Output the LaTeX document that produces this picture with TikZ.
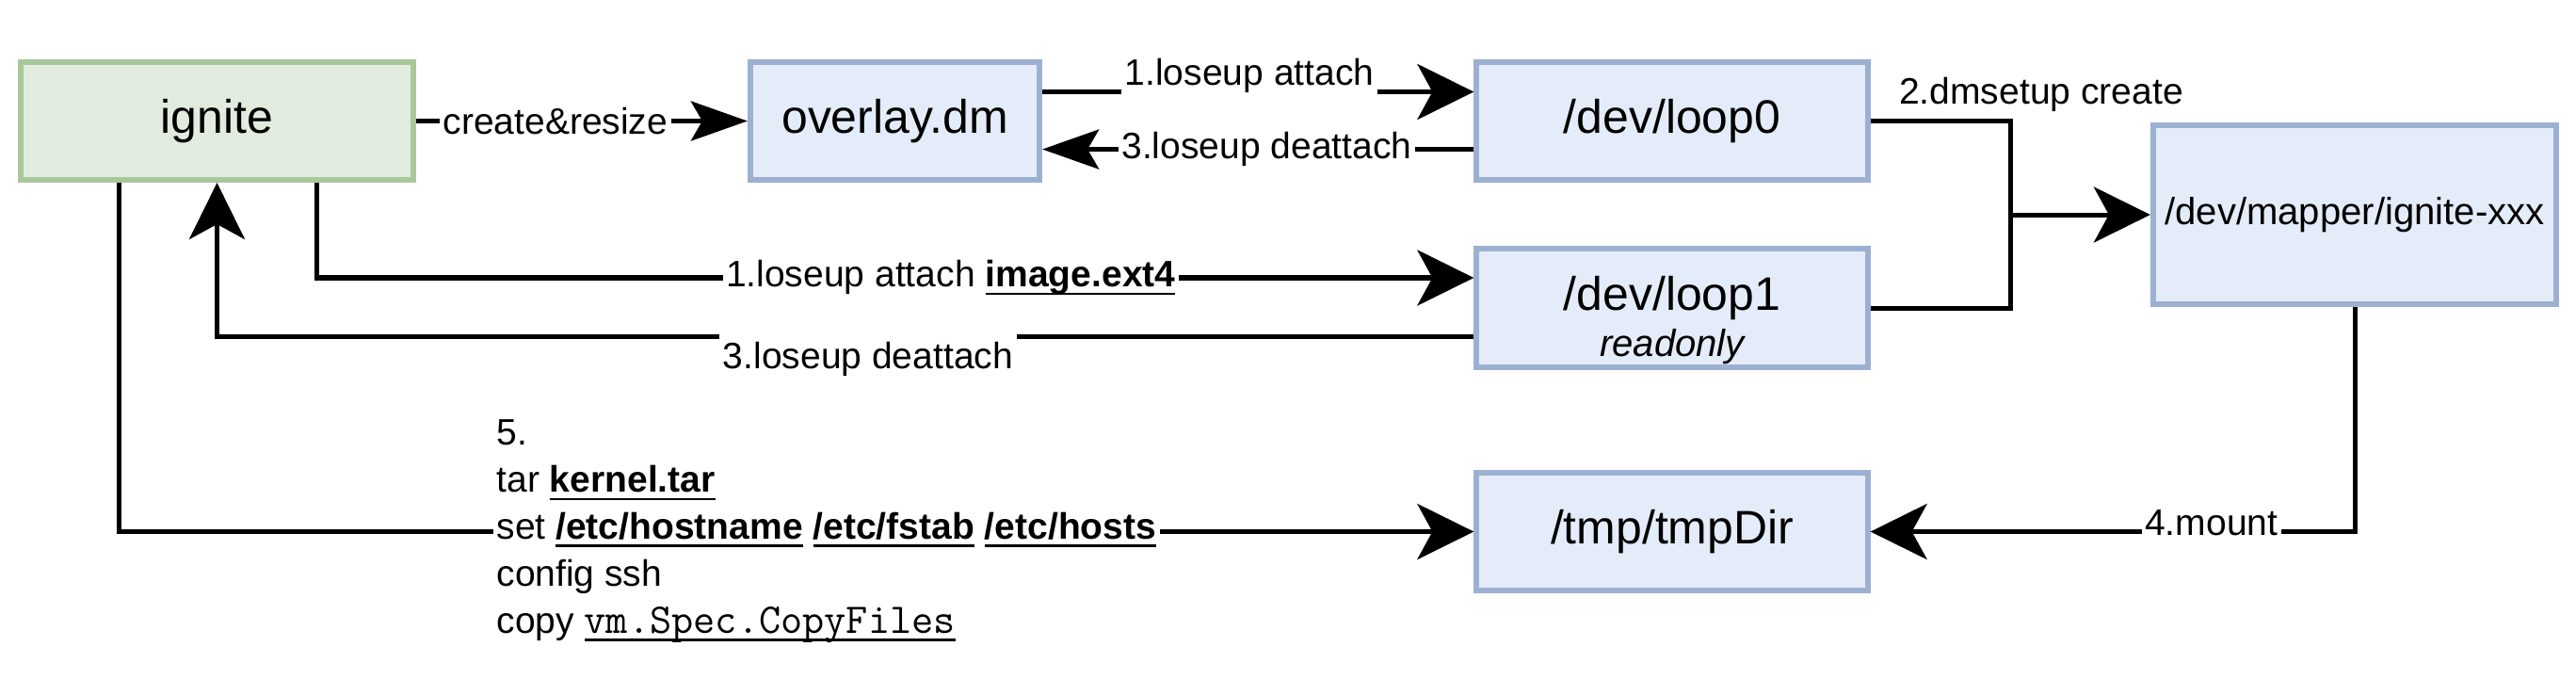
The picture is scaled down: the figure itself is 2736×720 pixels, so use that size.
\documentclass[tikz,border=0pt]{standalone}
\usepackage{fontspec}
\setmainfont{Liberation Sans}
\usepackage{tikz}
\usetikzlibrary{arrows.meta}
\usetikzlibrary{calc}
\definecolor{boxgreen}{HTML}{E1ECDF}
\definecolor{linegreen}{HTML}{AAC79B}
\definecolor{boxblue}{HTML}{E5ECF9}
\definecolor{lineblue}{HTML}{9CB0D2}
\newcommand{\thickul}[1]{\setbox0\hbox{#1}\rlap{\rule[-2.4pt]{\wd0}{0.8pt}}\box0\relax}

\begin{document}
\begin{tikzpicture}[x=0.01cm, y=-0.01cm,
		bigtip/.tip={Stealth[length=6mm, width=5.9mm, inset=1.6mm]},
		smalltip/.tip={Stealth[length=6mm, width=4.2mm, inset=1.2mm]},
		wire/.style={line width=0.05cm},
		flow/.style={wire, -bigtip},
		thinflow/.style={wire, -smalltip},
		box/.style={draw=lineblue, fill=boxblue, line width=0.06cm, minimum width=4.15cm, minimum height=1.25cm, inner sep=0pt, font=\fontsize{14.2}{14}\selectfont},
		lbl/.style={fill=white, inner sep=1pt, font=\fontsize{11.1}{14.2}\selectfont}]
		\useasboundingbox (0,0) rectangle (2736,720);
		\node[box, draw=linegreen, fill=boxgreen, minimum width=4.17cm] (ignite) at (230.5,128.5) {ignite};
		\node[box, minimum width=3.07cm] (overlay) at (950.5,128.5) {overlay.dm};
		\node[box] (loop0) at (1776,128.5) {/dev/loop0};
		\node[box, align=center] (loop1) at (1776,327) {\rule{0pt}{0.62cm}/dev/loop1\\{\fontsize{11.4}{14}\selectfont\itshape readonly}};
		\node[box, minimum width=4.28cm, minimum height=1.9cm, font=\fontsize{11.4}{14}\selectfont] (mapper) at (2501,228) {/dev/mapper/ignite-xxx};
		\node[box] (tmpdir) at (1776,564.5) {/tmp/tmpDir};
		\coordinate (join) at (2135,228);

		\draw[thinflow] (ignite) -- node[lbl, pos=0.42] (lcreate) {create\&resize} (overlay);
		\draw[flow] ([yshift=0.31cm]overlay.east) -- node[lbl, pos=0.48, yshift=0.17cm] (lattach0) {1.loseup attach} ([yshift=0.31cm]loop0.west);
		\draw[thinflow] ([yshift=-0.3cm]loop0.west) -- node[lbl, pos=0.48] (ldetach0) {3.loseup deattach} ([yshift=-0.3cm]overlay.east);
		\draw[flow] ([xshift=1.055cm]ignite.south) |- node[lbl, pos=0.774] (lattach1) {1.loseup attach \thickul{\textbf{image.ext4}}} ([yshift=0.32cm]loop1.west);
		\draw[flow] ([yshift=-0.3cm]loop1.west) -| node[lbl, pos=0.241, yshift=-0.24cm, inner ysep=4pt] (ldetach1) {3.loseup deattach} (ignite.south);
		\draw[wire] (loop0.east) -| node[lbl, fill=none, pos=0, anchor=south west, xshift=0.21cm, inner sep=2pt] (ldm) {2.dmsetup create} (join) |- (loop1.east);
		\draw[flow] (join) -- (mapper.west);
		\draw[flow] (mapper.south) |- node[lbl, pos=0.648, yshift=0.09cm] (lmount) {4.mount} (tmpdir.east);
		\draw[flow] ([xshift=-1.035cm]ignite.south) |- node[lbl, pos=0.761, align=left] (lsetup) {5.\\tar \thickul{\textbf{kernel.tar}}\\set \thickul{\textbf{/etc/hostname}} \thickul{\textbf{/etc/fstab}} \thickul{\textbf{/etc/hosts}}\\config ssh\\copy \thickul{\fontsize{12.8}{14.2}\selectfont\ttfamily vm.Spec.CopyFiles}} (tmpdir.west);
	\end{tikzpicture}
\end{document}
